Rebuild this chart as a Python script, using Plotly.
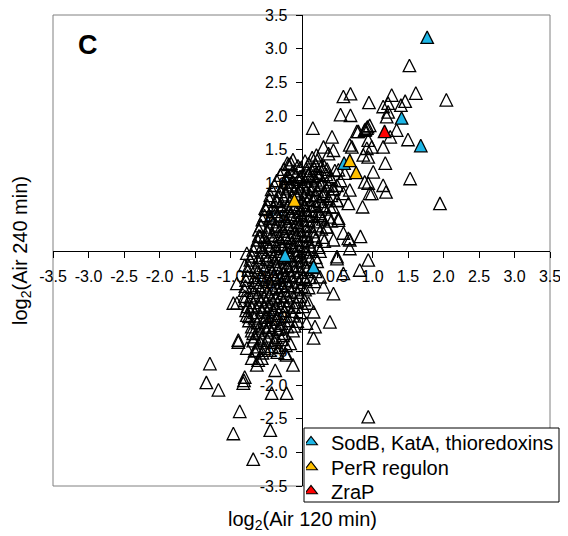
import plotly.graph_objects as go

# ---- data (log2 ratios) ----
# dense core of the cloud (first layer)
core_x = [-0.12, 0.05, 0.15, 0.22,
          -0.25, -0.12, -0.02, 0.08, 0.18, 0.28, 0.36, 0.47,
          -0.35, -0.22, -0.12, -0.04, 0.05, 0.12, 0.20, 0.30, 0.42, 0.55,
          -0.42, -0.30, -0.20, -0.10, -0.02, 0.06, 0.14, 0.22, 0.32, 0.44,
          -0.45, -0.35, -0.25, -0.15, -0.06, 0.02, 0.10, 0.18, 0.26, 0.38, 0.50,
          -0.50, -0.38, -0.28, -0.18, -0.10, -0.02, 0.06, 0.14, 0.24, 0.34,
          -0.55, -0.42, -0.32, -0.22, -0.14, -0.06, 0.02, 0.10, 0.20, 0.30, 0.42,
          -0.60, -0.48, -0.36, -0.26, -0.18, -0.10, -0.02, 0.06, 0.16, 0.28,
          -0.62, -0.50, -0.40, -0.30, -0.22, -0.14, -0.06, 0.02, 0.10, 0.20, 0.32,
          -0.68, -0.55, -0.45, -0.35, -0.27, -0.19, -0.11, -0.03, 0.05, 0.14, 0.26,
          -0.72, -0.60, -0.48, -0.38, -0.30, -0.22, -0.14, -0.06, 0.02, 0.12, 0.22,
          -0.75, -0.62, -0.52, -0.42, -0.34, -0.26, -0.18, -0.10, -0.02, 0.08, 0.20,
          -0.78, -0.65, -0.55, -0.45, -0.37, -0.29, -0.21, -0.13, -0.04, 0.06, 0.18,
          -0.80, -0.68, -0.58, -0.48, -0.40, -0.32, -0.24, -0.15, -0.06, 0.05,
          -0.80, -0.68, -0.58, -0.50, -0.42, -0.34, -0.26, -0.18, -0.08, 0.04,
          -0.78, -0.66, -0.56, -0.48, -0.40, -0.32, -0.24, -0.14, -0.02,
          -0.74, -0.62, -0.52, -0.44, -0.36, -0.28, -0.18, -0.06,
          -0.70, -0.60, -0.50, -0.42, -0.33, -0.24, -0.12,
          -0.68, -0.58, -0.48, -0.38, -0.28, -0.16,
          -0.66, -0.55, -0.45, -0.34]
core_y = [1.35, 1.33, 1.38, 1.34,
          1.21, 1.18, 1.23, 1.19, 1.22, 1.17, 1.21, 1.19,
          1.04, 1.07, 1.02, 1.06, 1.03, 1.08, 1.05, 1.02, 1.06, 1.04,
          0.91, 0.88, 0.92, 0.89, 0.93, 0.87, 0.91, 0.90, 0.88, 0.92,
          0.76, 0.73, 0.77, 0.74, 0.78, 0.72, 0.76, 0.75, 0.73, 0.77, 0.74,
          0.61, 0.58, 0.62, 0.59, 0.63, 0.57, 0.61, 0.60, 0.58, 0.62,
          0.46, 0.43, 0.47, 0.44, 0.48, 0.42, 0.46, 0.45, 0.43, 0.47, 0.44,
          0.31, 0.28, 0.32, 0.29, 0.33, 0.27, 0.31, 0.30, 0.28, 0.32,
          0.16, 0.13, 0.17, 0.14, 0.18, 0.12, 0.16, 0.15, 0.13, 0.17, 0.14,
          0.01, -0.02, 0.02, -0.01, 0.03, -0.03, 0.01, 0.00, -0.02, 0.02, -0.01,
          -0.14, -0.17, -0.13, -0.16, -0.12, -0.18, -0.14, -0.15, -0.17, -0.13, -0.16,
          -0.29, -0.32, -0.28, -0.31, -0.27, -0.33, -0.29, -0.30, -0.32, -0.28, -0.31,
          -0.44, -0.47, -0.43, -0.46, -0.42, -0.48, -0.44, -0.45, -0.47, -0.43, -0.46,
          -0.59, -0.62, -0.58, -0.61, -0.57, -0.63, -0.59, -0.60, -0.62, -0.58,
          -0.74, -0.77, -0.73, -0.76, -0.72, -0.78, -0.74, -0.75, -0.77, -0.73,
          -0.89, -0.92, -0.88, -0.91, -0.87, -0.93, -0.89, -0.90, -0.92,
          -1.04, -1.07, -1.03, -1.06, -1.02, -1.08, -1.04, -1.05,
          -1.19, -1.22, -1.18, -1.21, -1.17, -1.23, -1.19,
          -1.34, -1.37, -1.33, -1.36, -1.32, -1.38,
          -1.49, -1.52, -1.48, -1.51]

# dense core of the cloud (second, interleaved layer)
core2_x = [-0.18, -0.05, 0.10, 0.20, 0.32,
           -0.30, -0.18, -0.08, 0.01, 0.10, 0.16, 0.25, 0.35,
           -0.38, -0.26, -0.16, -0.06, 0.02, 0.10, 0.18, 0.27, 0.38, 0.50,
           -0.44, -0.33, -0.22, -0.13, -0.04, 0.04, 0.12, 0.20, 0.30, 0.42,
           -0.48, -0.40, -0.30, -0.20, -0.12, -0.04, 0.04, 0.12, 0.20, 0.30, 0.44,
           -0.52, -0.44, -0.34, -0.24, -0.16, -0.08, 0.00, 0.08, 0.16, 0.26, 0.38,
           -0.57, -0.46, -0.36, -0.28, -0.20, -0.12, -0.04, 0.04, 0.12, 0.22, 0.36,
           -0.60, -0.52, -0.42, -0.32, -0.24, -0.16, -0.08, 0.00, 0.08, 0.18, 0.30,
           -0.64, -0.56, -0.46, -0.36, -0.28, -0.20, -0.12, -0.04, 0.04, 0.12, 0.24,
           -0.70, -0.60, -0.50, -0.40, -0.32, -0.24, -0.16, -0.08, 0.00, 0.10, 0.20,
           -0.74, -0.64, -0.54, -0.44, -0.36, -0.28, -0.20, -0.12, -0.04, 0.06, 0.16,
           -0.76, -0.66, -0.57, -0.48, -0.39, -0.31, -0.23, -0.15, -0.07, 0.02, 0.12,
           -0.79, -0.70, -0.60, -0.51, -0.43, -0.35, -0.27, -0.19, -0.10, 0.00, 0.10,
           -0.80, -0.72, -0.62, -0.53, -0.45, -0.37, -0.29, -0.21, -0.12, -0.02,
           -0.76, -0.70, -0.60, -0.52, -0.44, -0.36, -0.28, -0.20, -0.10, 0.02,
           -0.74, -0.66, -0.58, -0.50, -0.42, -0.34, -0.24, -0.12,
           -0.70, -0.60, -0.52, -0.46, -0.38, -0.30, -0.20, -0.10,
           -0.66, -0.56, -0.46, -0.36, -0.26,
           -0.62, -0.52, -0.42, -0.32, -0.22]
core2_y = [1.28, 1.26, 1.29, 1.27, 1.25,
           1.12, 1.10, 1.13, 1.11, 1.14, 1.10, 1.12, 1.13,
           0.97, 0.95, 0.98, 0.96, 0.99, 0.95, 0.97, 0.98, 0.96, 0.97,
           0.82, 0.80, 0.83, 0.81, 0.84, 0.80, 0.82, 0.83, 0.81, 0.82,
           0.67, 0.65, 0.68, 0.66, 0.69, 0.65, 0.67, 0.68, 0.66, 0.67, 0.65,
           0.52, 0.50, 0.53, 0.51, 0.54, 0.50, 0.52, 0.53, 0.51, 0.52, 0.50,
           0.37, 0.35, 0.38, 0.36, 0.39, 0.35, 0.37, 0.38, 0.36, 0.37, 0.35,
           0.22, 0.20, 0.23, 0.21, 0.24, 0.20, 0.22, 0.23, 0.21, 0.22, 0.20,
           0.07, 0.05, 0.08, 0.06, 0.09, 0.05, 0.07, 0.08, 0.06, 0.07, 0.05,
           -0.08, -0.10, -0.07, -0.09, -0.06, -0.10, -0.08, -0.07, -0.09, -0.08, -0.10,
           -0.23, -0.25, -0.22, -0.24, -0.21, -0.25, -0.23, -0.22, -0.24, -0.23, -0.25,
           -0.38, -0.40, -0.37, -0.39, -0.36, -0.40, -0.38, -0.37, -0.39, -0.38, -0.40,
           -0.53, -0.55, -0.52, -0.54, -0.51, -0.55, -0.53, -0.52, -0.54, -0.53, -0.55,
           -0.68, -0.70, -0.67, -0.69, -0.66, -0.70, -0.68, -0.67, -0.69, -0.68,
           -0.83, -0.85, -0.82, -0.84, -0.81, -0.85, -0.83, -0.82, -0.84, -0.83,
           -0.98, -1.00, -0.97, -0.99, -0.96, -1.00, -0.98, -0.97,
           -1.13, -1.15, -1.12, -1.14, -1.11, -1.15, -1.13, -1.12,
           -1.28, -1.30, -1.27, -1.29, -1.26,
           -1.43, -1.45, -1.42, -1.44, -1.41]

# scattered points outside the core
outer_x = [1.52, 1.61, 2.04, 1.27, 1.46, 1.40, 1.22, 1.15, 0.95, 0.69, 0.59, 0.69,
           0.55, 1.20, 1.22, 0.92, 0.96, 0.89, 0.80, 1.34, 1.25, 1.50, 1.15, 0.94,
           0.99, 0.71, 0.87, 1.18, 1.01, 1.53, 1.15, 0.94, 0.16, 0.43, 0.31, 0.45,
           0.21, 0.38, -0.15, 0.68, 0.78, 0.92, 0.94, 0.89, 0.96, 1.19, 1.95, 0.86,
           0.68, 0.66, 0.59, 0.52, 0.59, 0.68, 0.83, 0.68, 0.50, 0.94, 0.45, 0.31,
           0.40, 0.21, 0.28, 0.52, 0.61, -0.02, -0.21, 0.10, 0.50, 0.40, 0.26, 0.35,
           0.45, 0.99, 0.66, 0.50, 0.52, 0.93, 0.90,
           0.82, 0.59, 0.45, 0.40, 0.19, 0.17, 0.07, 0.17, 0.10, 0.31, 0.26, 0.94,
           -0.12, -0.21, -0.23,
           -1.29, -1.34, -1.17, -0.87, -0.96, -0.68, -0.44, -0.42, -0.80, -0.82,
           -0.81, -0.37, -0.63, -0.70, -0.56, -0.21, -0.77, -0.63, -0.89, -0.91,
           -0.80, -0.96, -0.91, -0.89, -0.77, -0.68, -0.61,
           -0.51, -0.58, -0.77, -0.20, -0.19, -0.44, -0.35]
outer_y = [2.75, 2.34, 2.24, 2.31, 2.22, 2.16, 2.19, 2.14, 2.20, 2.33, 2.29, 2.01,
           2.02, 1.99, 2.06, 1.82, 1.86, 1.79, 1.77, 1.79, 1.69, 1.65, 1.54, 1.64,
           1.54, 1.54, 1.42, 1.30, 1.17, 1.07, 0.97, 1.00, 1.82, 1.69, 1.54, 1.49,
           1.42, 1.44, 1.30, 1.57, 1.77, 1.52, 1.39, 1.02, 0.85, 0.87, 0.70, 0.65,
           0.90, 0.70, 0.85, 0.48, 0.26, 0.16, 0.21, 0.03, -0.09, -0.14, 0.92, 0.85,
           1.10, 1.15, 1.25, 1.20, 1.15, 1.10, 1.02, 1.12, 0.75, 0.65, 0.55, 0.35,
           0.16, 0.85, 0.18, -0.12, 0.45, 1.84, 1.80,
           -0.29, -0.34, -0.64, -1.06, -1.13, -1.30, -1.08, -0.91, -0.78, -0.54, -0.39, -2.47,
           -1.70, -2.12, -1.53,
           -1.68, -1.96, -2.07, -2.39, -2.72, -3.10, -2.67, -2.12, -1.88, -1.97,
           -1.93, -1.78, -1.70, -1.60, -1.60, -1.55, -1.45, -1.48, -1.36, -0.49,
           -0.22, -0.78, -0.78, -1.33, -0.96, -1.23, -1.63,
           0.63, 0.21, -0.04, 1.30, 1.12, 0.48, 0.75]

sod_x = [1.77, 1.41, 1.68, 0.60, -0.23, 0.17]
sod_y = [3.17, 1.97, 1.56, 1.30, -0.07, -0.24]
perr_x = [0.68, 0.77, -0.10]
perr_y = [1.34, 1.16, 0.75]
zrap_x = [1.17]
zrap_y = [1.77]

series_names = ["SodB, KatA, thioredoxins", "PerR regulon", "ZraP"]
series_colors = ["#1DB6E6", "#FFC000", "#FF0000"]

tick_vals = [-3.5, -3.0, -2.5, -2.0, -1.5, -1.0, -0.5, 0.0, 0.5, 1.0, 1.5, 2.0, 2.5, 3.0, 3.5]
tick_text = ["-3.5", "-3.0", "-2.5", "-2.0", "-1.5", "-1.0", "-0.5", "", "0.5", "1.0",
             "1.5", "2.0", "2.5", "3.0", "3.5"]

FONT = "Liberation Sans, Arial, sans-serif"
MS = 12.5
OFF = 8                      # page offset of the figure (default body margin)
W, H = 568 - OFF, 536 - OFF
ML, MR, MT, MB = 53 - OFF, 5, 15 - OFF, 30
PW, PH = W - ML - MR, H - MT - MB


def px_x(v):  # page pixel -> paper fraction
    return (v - OFF - ML) / PW


def px_y(v):
    return (H - MB - (v - OFF)) / PH


def marker(color):
    return dict(symbol="arrow-down", angle=180, standoff=MS / 2, size=MS,
                color=color, line=dict(color="black", width=1.3))


fig = go.Figure()
fig.add_trace(go.Scatter(x=core_x + core2_x + outer_x, y=core_y + core2_y + outer_y,
                         mode="markers", marker=marker("rgba(255,255,255,0)"),
                         showlegend=False, hoverinfo="skip"))
for xs, ys, nm, col in zip([sod_x, perr_x, zrap_x], [sod_y, perr_y, zrap_y],
                           series_names, series_colors):
    fig.add_trace(go.Scatter(x=xs, y=ys, mode="markers", name=nm,
                             marker=marker(col), showlegend=False))

# legend keys (one small legend per row)
for i, (nm, col) in enumerate(zip(series_names, series_colors)):
    fig.add_trace(go.Scatter(x=[None], y=[None], mode="markers", name=nm,
                             legend="legend" if i == 0 else f"legend{i + 1}",
                             marker=dict(symbol="triangle-up", size=11, color=col,
                                         line=dict(color="black", width=1.2))))

x_dom = [0, px_x(550)]
y_dom = [px_y(486), 1]

axis_common = dict(range=[-3.5, 3.5], tickvals=tick_vals, ticktext=tick_text,
                   showgrid=False, zeroline=False, showline=True, linecolor="black",
                   linewidth=1, ticks="outside", ticklen=6, tickcolor="black",
                   tickfont=dict(family=FONT, size=16, color="black"),
                   anchor="free", layer="below traces", automargin=False,
                   ticklabeloverflow="allow", ticklabelstandoff=5)


def leg(ypix):
    return dict(x=px_x(306), y=px_y(ypix), xanchor="left", yanchor="middle",
                bgcolor="rgba(0,0,0,0)", borderwidth=0, indentation=-15,
                font=dict(family=FONT, size=20, color="black"), itemwidth=30)


fig.update_layout(
    width=W, height=H,
    margin=dict(l=ML, r=MR, t=MT, b=MB),
    paper_bgcolor="white", plot_bgcolor="white",
    font=dict(family=FONT, color="black"),
    xaxis=dict(**axis_common, domain=x_dom, position=px_y(250.5)),
    yaxis=dict(**axis_common, domain=y_dom, position=px_x(301.5)),
    legend=leg(442),
    legend2=leg(467),
    legend3=leg(491),
    shapes=[
        dict(type="rect", xref="x domain", yref="y domain", x0=0, x1=1, y0=0, y1=1,
             line=dict(color="#808080", width=1), layer="below"),
        dict(type="rect", xref="paper", yref="paper", x0=px_x(304), x1=px_x(559),
             y0=px_y(502), y1=px_y(428), line=dict(color="black", width=1),
             fillcolor="white", layer="above"),
    ],
    annotations=[
        dict(text="<b>C</b>", xref="paper", yref="paper", x=px_x(88), y=px_y(45),
             xanchor="center", yanchor="middle",
             showarrow=False, font=dict(family=FONT, size=27, color="black")),
        dict(text="log<sub>2</sub>(Air 120 min)", xref="paper", yref="paper",
             x=px_x(302), y=px_y(520), xanchor="center", yanchor="middle", showarrow=False,
             font=dict(family=FONT, size=20, color="black")),
        dict(text="log<sub>2</sub>(Air 240 min)", xref="paper", yref="paper",
             x=px_x(22), y=px_y(251), xanchor="center", yanchor="middle", textangle=-90,
             showarrow=False, font=dict(family=FONT, size=20, color="black")),
    ],
)

fig.write_html("out.html")
